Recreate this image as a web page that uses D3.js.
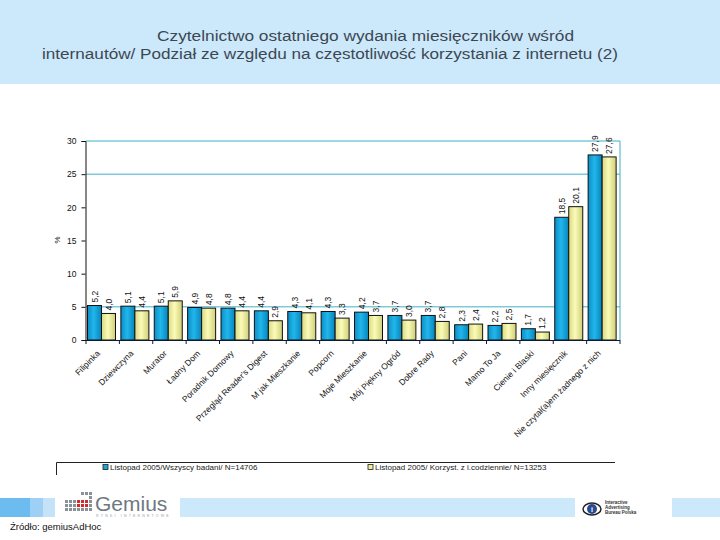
<!DOCTYPE html>
<html>
<head>
<meta charset="utf-8">
<script src="https://cdn.jsdelivr.net/npm/d3@7"></script>
<style>
  body { margin: 0; background: #fff; }
  svg { display: block; font-family: "Liberation Sans", Arial, sans-serif; }
</style>
</head>
<body>
<div id="vis"></div>
<script>
const categories = [
  "Filipinka", "Dziewczyna", "Murator", "Ładny Dom", "Poradnik Domowy",
  "Przegląd Reader's Digest", "M jak Mieszkanie", "Popcorn", "Moje Mieszkanie",
  "Mój Piękny Ogród", "Dobre Rady", "Pani", "Mamo To Ja", "Cienie i Blaski",
  "Inny miesięcznik", "Nie czytał(a)em żadnego z nich"
];
const allUsers = [5.2, 5.1, 5.1, 4.9, 4.8, 4.4, 4.3, 4.3, 4.2, 3.7, 3.7, 2.3, 2.2, 1.7, 18.5, 27.9];
const dailyUsers = [4.0, 4.4, 5.9, 4.8, 4.4, 2.9, 4.1, 3.3, 3.7, 3.0, 2.8, 2.4, 2.5, 1.2, 20.1, 27.6];
const seriesNames = [
  "Listopad 2005/Wszyscy badani/ N=14706",
  "Listopad 2005/ Korzyst. z i.codziennie/ N=13253"
];
const yTicks = [0, 5, 10, 15, 20, 25, 30];
const gridValues = [5, 25, 30];

const WIDTH = 720, HEIGHT = 540;
const PLOT = { left: 86, right: 620, top: 141, bottom: 340 };

const svg = d3.select("#vis").append("svg")
  .attr("width", WIDTH).attr("height", HEIGHT);

const defs = svg.append("defs");
function grad(id, stops) {
  const g = defs.append("linearGradient").attr("id", id)
    .attr("x1", "0%").attr("x2", "100%").attr("y1", "0%").attr("y2", "0%");
  stops.forEach(s => g.append("stop").attr("offset", s[0]).attr("stop-color", s[1]));
}
grad("gBlue", [["0%", "#0a8fc8"], ["45%", "#22b6ea"], ["100%", "#0584bd"]]);
grad("gYellow", [["0%", "#d9d982"], ["45%", "#fbfbb8"], ["100%", "#cfcf78"]]);
const fills = ["url(#gBlue)", "url(#gYellow)"];
const swatch = ["#1aa6dc", "#eeee9c"];

// header band
svg.append("rect").attr("x", 0).attr("y", 0).attr("width", WIDTH).attr("height", 84)
  .attr("fill", "#cce9fb");
svg.append("text").attr("x", 157).attr("y", 41)
  .attr("font-size", 15.5).attr("fill", "#3d4752")
  .attr("textLength", 417).attr("lengthAdjust", "spacingAndGlyphs")
  .text("Czytelnictwo ostatniego wydania miesięczników wśród");
svg.append("text").attr("x", 42).attr("y", 59)
  .attr("font-size", 15.5).attr("fill", "#3d4752")
  .attr("textLength", 576).attr("lengthAdjust", "spacingAndGlyphs")
  .text("internautów/ Podział ze względu na częstotliwość korzystania z internetu (2)");

// scales
const x0 = d3.scaleBand().domain(categories).range([PLOT.left, PLOT.right]).padding(0);
const x1 = d3.scaleBand().domain([0, 1]).range([1, 29]).padding(0);
const y = d3.scaleLinear().domain([0, 30]).range([PLOT.bottom, PLOT.top]);

// gridlines and right border
svg.append("g").selectAll("line").data(gridValues).join("line")
  .attr("x1", PLOT.left).attr("x2", PLOT.right)
  .attr("y1", d => y(d)).attr("y2", d => y(d))
  .attr("stroke", "#3fb0c8").attr("stroke-width", 1);
svg.append("line").attr("x1", PLOT.right).attr("x2", PLOT.right)
  .attr("y1", y(30)).attr("y2", y(0)).attr("stroke", "#3fb0c8");

// bars
const series = [allUsers, dailyUsers];
const groups = svg.append("g").selectAll("g").data(categories).join("g")
  .attr("transform", d => `translate(${x0(d)},0)`);
groups.selectAll("rect")
  .data((d, i) => series.map((s, k) => ({ k, v: s[i] })))
  .join("rect")
  .attr("x", d => x1(d.k) + 0.5)
  .attr("y", d => y(d.v))
  .attr("width", x1.bandwidth())
  .attr("height", d => y(0) - y(d.v))
  .attr("fill", d => fills[d.k])
  .attr("stroke", "#111").attr("stroke-width", 1);
groups.selectAll("text")
  .data((d, i) => series.map((s, k) => ({ k, v: s[i] })))
  .join("text")
  .attr("transform", d => `translate(${x1(d.k) + x1.bandwidth() / 2 + 3.5},${y(d.v) - 3}) rotate(-90)`)
  .attr("font-size", 8.5).attr("fill", "#111")
  .text(d => d.v.toFixed(1).replace(".", ","));

// y axis
const yAxis = svg.append("g").attr("transform", `translate(${PLOT.left - 0.5},0)`)
  .call(d3.axisLeft(y).tickValues(yTicks).tickSize(4).tickPadding(5).tickFormat(d3.format("d")));
yAxis.selectAll("text").attr("font-size", 8.5).attr("fill", "#111")
  .attr("font-family", "Liberation Sans, Arial, sans-serif");
yAxis.selectAll("line, path").attr("stroke", "#111");
svg.append("text").attr("transform", "translate(60,240) rotate(-90)")
  .attr("text-anchor", "middle").attr("font-size", 8).attr("fill", "#111").text("%");

// x axis
const bounds = categories.map(c => x0(c)).concat([PLOT.right]);
const xAxis = svg.append("g");
xAxis.append("line").attr("x1", PLOT.left).attr("x2", PLOT.right)
  .attr("y1", PLOT.bottom + 0.5).attr("y2", PLOT.bottom + 0.5).attr("stroke", "#0a1a3a");
xAxis.selectAll("line.t").data(bounds).join("line").attr("class", "t")
  .attr("x1", d => d).attr("x2", d => d)
  .attr("y1", PLOT.bottom).attr("y2", PLOT.bottom + 4).attr("stroke", "#0a1a3a");
xAxis.selectAll("text").data(categories).join("text")
  .attr("transform", d => `translate(${x0(d) + x0.bandwidth() / 2 - 2},${PLOT.bottom + 14}) rotate(-45)`)
  .attr("text-anchor", "end").attr("font-size", 8.5).attr("fill", "#111")
  .text(d => d);

// legend
const leg = svg.append("g");
leg.append("path").attr("d", "M56.5,475 V462.5 H615").attr("fill", "none").attr("stroke", "#222");
const legX = [103, 368];
seriesNames.forEach((name, i) => {
  leg.append("rect").attr("x", legX[i]).attr("y", 464.5).attr("width", 5).attr("height", 5)
    .attr("fill", swatch[i]).attr("stroke", "#222").attr("stroke-width", 0.8);
  leg.append("text").attr("x", legX[i] + 7).attr("y", 470)
    .attr("font-size", 8).attr("fill", "#222").text(name);
});

// footer strip
const foot = svg.append("g");
foot.append("rect").attr("x", 0).attr("y", 498).attr("width", 30).attr("height", 19).attr("fill", "#6cbcf0");
foot.append("rect").attr("x", 30).attr("y", 498).attr("width", 13).attr("height", 19).attr("fill", "#9dd0f4");
foot.append("rect").attr("x", 43).attr("y", 498).attr("width", 12).attr("height", 19).attr("fill", "#c4e3f8");
foot.append("rect").attr("x", 180).attr("y", 498).attr("width", 395).attr("height", 19).attr("fill", "#cce9fb");
foot.append("rect").attr("x", 672).attr("y", 498).attr("width", 48).attr("height", 19).attr("fill", "#cce9fb");

// Gemius logo
const gl = foot.append("g");
const cells = [];
for (let r = 0; r < 5; r++) for (let c = 0; c < 7; c++) {
  if (r < 2 && c < 7 - (r === 0 ? 3 : 1)) continue;
  cells.push({ r, c });
}
gl.selectAll("rect").data(cells).join("rect")
  .attr("x", d => 65 + d.c * 4).attr("y", d => 492 + d.r * 4)
  .attr("width", 3).attr("height", 3)
  .attr("fill", d => (d.r >= 2 && d.r <= 3 && d.c >= 3 && d.c <= 5) ? "#d42a2a" : "#8a9098");
gl.append("text").attr("x", 95).attr("y", 511).attr("font-size", 21)
  .attr("fill", "#6e7882").text("Gemius");
gl.append("text").attr("x", 96).attr("y", 517).attr("font-size", 3.5)
  .attr("fill", "#9aa0a8").attr("letter-spacing", 2.2).text("RYNKI INTERNETOWE");

// IAB logo
const iab = foot.append("g");
iab.append("ellipse").attr("cx", 592).attr("cy", 509).attr("rx", 9).attr("ry", 6)
  .attr("fill", "none").attr("stroke", "#222").attr("stroke-width", 1.5);
iab.append("circle").attr("cx", 592).attr("cy", 509).attr("r", 5).attr("fill", "#2a4a90");
iab.append("text").attr("x", 592).attr("y", 512).attr("text-anchor", "middle")
  .attr("font-size", 7).attr("font-weight", "bold").attr("fill", "#fff").text("i");
["Interactive", "Advertising", "Bureau Polska"].forEach((t, i) => {
  iab.append("text").attr("x", 605).attr("y", 504 + i * 5).attr("font-size", 4.5)
    .attr("font-weight", "bold").attr("fill", "#333").text(t);
});

svg.append("text").attr("x", 10).attr("y", 530).attr("font-size", 9.5)
  .attr("fill", "#111").text("Źródło: gemiusAdHoc");
</script>
</body>
</html>
